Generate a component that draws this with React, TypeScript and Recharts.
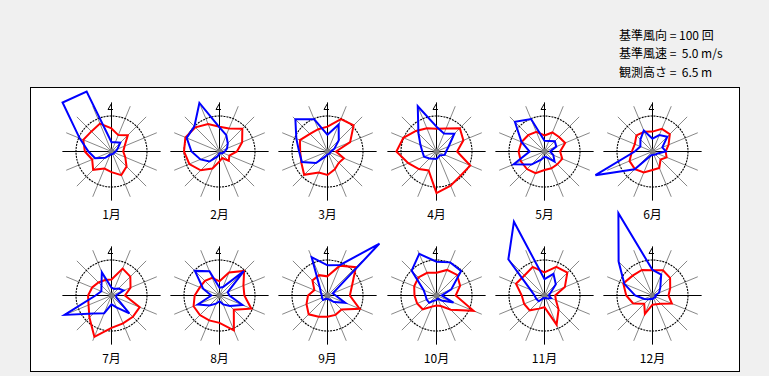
import React from 'react';
import { RadarChart, Radar, PolarGrid, PolarAngleAxis, PolarRadiusAxis, Customized } from 'recharts';

const directions = ['N', 'NNE', 'NE', 'ENE', 'E', 'ESE', 'SE', 'SSE', 'S', 'SSW', 'SW', 'WSW', 'W', 'WNW', 'NW', 'NNW'];
const monthLabels = ['1月', '2月', '3月', '4月', '5月', '6月', '7月', '8月', '9月', '10月', '11月', '12月'];
const headerLines = ['基準風向 = 100 回', '基準風速 =  5.0 m/s', '観測高さ =  6.5 m'];

// values in % of the reference (the dotted circle = 100)
const redJan = [65, 50, 65, 40, 33, 42, 60, 72, 58, 52, 73, 59, 75, 86, 80, 85];
const blueJan = [26, 28, 35, 18, 12, 8, 8, 8, 8, 10, 25, 50, 65, 97, 195, 183];
const redFeb = [70, 70, 91, 69, 49, 30, 37, 20, 28, 52, 75, 92, 100, 104, 96, 84];
const blueFeb = [68, 50, 33, 23, 15, 10, 8, 5, 5, 15, 40, 58, 79, 100, 100, 148];
const redMar = [70, 99, 104, 69, 24, 50, 45, 54, 66, 64, 93, 80, 77, 84, 70, 68];
const blueMar = [47, 82, 45, 21, 10, 8, 8, 8, 8, 15, 46, 78, 80, 95, 128, 98];
const redApr = [64, 70, 93, 82, 58, 103, 96, 104, 117, 58, 70, 86, 113, 101, 82, 71];
const blueApr = [70, 55, 71, 37, 27, 25, 15, 16, 21, 22, 28, 38, 40, 49, 72, 138];
const redMay = [45, 58, 58, 63, 44, 54, 51, 51, 52, 66, 70, 72, 73, 70, 65, 60];
const blueMay = [30, 32, 41, 36, 16, 27, 40, 18, 15, 25, 52, 94, 42, 70, 118, 99];
const redJun = [56, 69, 69, 49, 37, 43, 32, 50, 52, 64, 70, 70, 58, 54, 64, 60];
const blueJun = [36, 50, 59, 30, 38, 15, 12, 10, 10, 12, 71, 174, 50, 37, 48, 64];
const redJul = [45, 82, 75, 58, 38, 86, 85, 85, 91, 126, 88, 70, 66, 59, 52, 47];
const blueJul = [22, 20, 28, 37, 13, 15, 71, 36, 25, 54, 72, 143, 45, 31, 40, 71];
const redAug = [40, 70, 98, 73, 70, 97, 57, 106, 77, 76, 78, 79, 70, 60, 58, 54];
const blueAug = [22, 26, 97, 25, 28, 70, 42, 27, 16, 25, 40, 66, 23, 50, 98, 74];
const redSep = [54, 91, 113, 75, 63, 98, 56, 59, 60, 65, 75, 64, 55, 40, 60, 62];
const blueSep = [85, 93, 207, 16, 23, 54, 26, 12, 10, 10, 18, 17, 16, 20, 30, 117];
const redOct = [64, 78, 82, 72, 54, 113, 57, 32, 28, 34, 55, 59, 62, 68, 72, 69];
const blueOct = [95, 101, 98, 45, 15, 52, 20, 10, 13, 15, 29, 30, 31, 39, 99, 127];
const redNov = [65, 87, 91, 62, 30, 35, 56, 89, 33, 40, 59, 62, 64, 87, 80, 87];
const blueNov = [46, 66, 45, 18, 12, 20, 12, 8, 8, 8, 23, 25, 28, 43, 144, 225];
const redDec = [71, 77, 70, 54, 45, 59, 33, 27, 26, 56, 33, 59, 74, 89, 79, 78];
const blueDec = [72, 64, 31, 20, 8, 10, 8, 8, 10, 10, 15, 25, 49, 86, 135, 251];

const redSeries = [redJan, redFeb, redMar, redApr, redMay, redJun, redJul, redAug, redSep, redOct, redNov, redDec];
const blueSeries = [blueJan, blueFeb, blueMar, blueApr, blueMay, blueJun, blueJul, blueAug, blueSep, blueOct, blueNov, blueDec];

const referenceValue = 100;
const SIZE = 240;
const HALF = 120;
const OUTER = 49;
const CIRCLE_PX = 35.5;
const MAXV = (referenceValue * OUTER) / CIRCLE_PX;
const COL_X = [111.5, 219.5, 327.5, 436.5, 544.5, 652.5];
const ROW_Y = [151.5, 295.5];
const FONT = "'Noto Sans CJK JP', 'DejaVu Sans', sans-serif";

function Deco({ label, cx, cy }: { label: string; cx: number; cy: number }) {
  return (
    <g>
      <polyline
        points={`${cx},${cy - 48} ${cx - 3.5},${cy - 42} ${cx + 1.5},${cy - 42}`}
        fill="none"
        stroke="#000"
        strokeWidth={1}
      />
      <circle cx={cx} cy={cy} r={3} fill="#808080" />
      <text
        x={cx}
        y={cy + 61.5}
        textAnchor="middle"
        dominantBaseline="central"
        fontSize={12}
        fontFamily={FONT}
        fill="#000"
      >
        {label}
      </text>
    </g>
  );
}

function Rose({ idx }: { idx: number }) {
  const data = directions.map((d, i) => ({ dir: d, red: redSeries[idx][i], blue: blueSeries[idx][i] }));
  const x = COL_X[idx % 6];
  const y = ROW_Y[Math.floor(idx / 6)];
  const left = Math.floor(x) - HALF;
  const top = Math.floor(y) - HALF;
  const cx = HALF + (x - Math.floor(x));
  const cy = HALF + (y - Math.floor(y));
  return (
    <div style={{ position: 'absolute', left, top, width: SIZE, height: SIZE }}>
      <RadarChart
        width={SIZE}
        height={SIZE}
        data={data}
        cx={cx}
        cy={cy}
        innerRadius={0}
        outerRadius={OUTER}
        startAngle={90}
        endAngle={-270}
        margin={{ top: 0, right: 0, bottom: 0, left: 0 }}
      >
        <PolarAngleAxis dataKey="dir" tick={false} tickLine={false} axisLine={false} />
        <PolarRadiusAxis
          type="number"
          domain={[0, MAXV]}
          allowDataOverflow
          ticks={[referenceValue]}
          tick={false}
          axisLine={false}
          tickLine={false}
        />
        <PolarGrid gridType="circle" polarRadius={[]} stroke="#888888" strokeWidth={1} />
        <PolarGrid gridType="circle" radialLines={false} stroke="#000" strokeWidth={1.1} strokeDasharray="2 1" />
        <PolarGrid gridType="circle" polarRadius={[]} polarAngles={[0, 90, 180, 270]} stroke="#000" strokeWidth={1} />
        <Customized component={<Deco label={monthLabels[idx]} cx={cx} cy={cy} />} />
        <Radar
          dataKey="red"
          stroke="#ff0000"
          strokeWidth={2}
          fill="none"
          fillOpacity={0}
          dot={false}
          isAnimationActive={false}
        />
        <Radar
          dataKey="blue"
          stroke="#0000ff"
          strokeWidth={2}
          fill="none"
          fillOpacity={0}
          dot={false}
          isAnimationActive={false}
        />
      </RadarChart>
    </div>
  );
}

export default function App() {
  return (
    <div
      style={{
        position: 'absolute',
        left: 0,
        top: 0,
        width: 769,
        height: 376,
        background: '#f0f0f0',
        fontFamily: FONT,
        overflow: 'hidden',
      }}
    >
      {headerLines.map((t, i) => (
        <div
          key={t}
          style={{
            position: 'absolute',
            left: 619,
            top: 27 + i * 18.3,
            fontSize: 12,
            lineHeight: '16px',
            whiteSpace: 'pre',
            color: '#000',
          }}
        >
          {t}
        </div>
      ))}
      <div
        style={{
          position: 'absolute',
          left: 30,
          top: 87,
          width: 708,
          height: 283,
          border: '1px solid #000',
          background: '#fff',
        }}
      />
      {monthLabels.map((m, i) => (
        <Rose key={m} idx={i} />
      ))}
    </div>
  );
}
